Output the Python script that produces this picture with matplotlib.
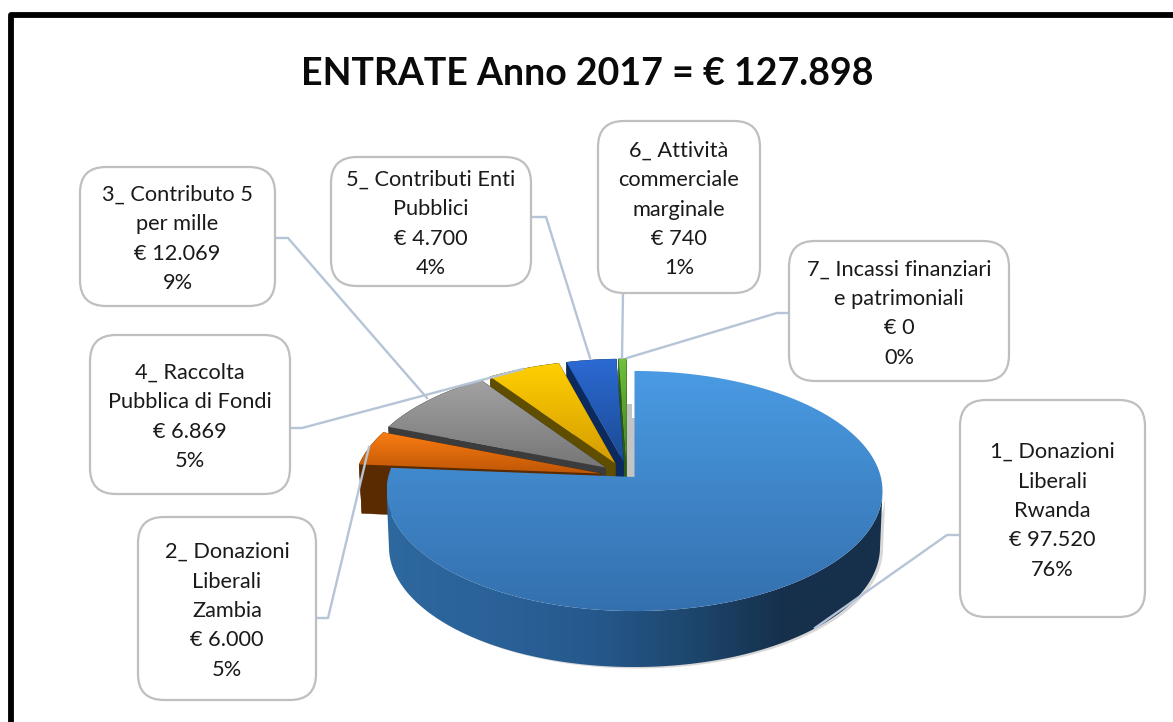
import numpy as np
import matplotlib
matplotlib.use("Agg")
import matplotlib.pyplot as plt
from matplotlib.patches import FancyBboxPatch, Polygon, Rectangle
from matplotlib.colors import LinearSegmentedColormap

title = "ENTRATE Anno 2017 = € 127.898"
names = ["1_ Donazioni\nLiberali\nRwanda", "2_ Donazioni\nLiberali\nZambia",
         "3_ Contributo 5\nper mille", "4_ Raccolta\nPubblica di Fondi",
         "5_ Contributi Enti\nPubblici", "6_ Attività\ncommerciale\nmarginale",
         "7_ Incassi finanziari\ne patrimoniali"]
values = [97520, 6000, 12069, 6869, 4700, 740, 0]
value_labels = ["€ 97.520", "€ 6.000", "€ 12.069", "€ 6.869", "€ 4.700", "€ 740", "€ 0"]
percent_labels = ["76%", "5%", "9%", "5%", "4%", "1%", "0%"]

top_colors = [("#4A9BE3", "#3470AE"), ("#FB7D12", "#BE5606"), ("#A2A2A2", "#767676"),
              ("#FFD000", "#D59C02"), ("#2C6AD4", "#1A4A92"), ("#6FC23C", "#3F7F1E"), ("#999999", "#777777")]
wall_colors = ["#1B3A5E", "#5A2A00", "#3C3C3C", "#5F4E00", "#0C2A5E", "#2C5A14", "#444444"]
explode = [0, 0.13, 0.13, 0.13, 0.13, 0.13, 0.13]
nudge = [0, -2, -4, -6, -6, -7.5, 0]

boxes = [(960, 400, 1145, 617), (138, 517, 316, 700), (80, 167, 275, 306), (90, 335, 290, 494),
         (331, 157, 531, 286), (598, 121, 760, 293), (789, 241, 1009, 381)]
leaders = [[(960, 535), (947, 535), (815, 628)], [(316, 618), (328, 618), (369, 447)],
           [(275, 238), (288, 238), (427, 398)], [(290, 428), (302, 428), (523, 369)],
           [(531, 217), (546, 217), (590, 358)], [(623, 293), (622, 358)],
           [(789, 313), (777, 313), (627, 358)]]

CX, CY, A, B, K = 634.5, 477.0, 118.4, 246.3, 0.1167

plt.rcParams["font.family"] = ["Lato", "DejaVu Sans"]
fig = plt.figure(figsize=(11.73, 7.22), dpi=100, facecolor="white")
ax = fig.add_axes([0, 0, 1, 1])
ax.set_xlim(0, 1173)
ax.set_ylim(722, 0)
ax.axis("off")


def wedge_outline(t0, t1, e, main, nudge_px):
    mid = np.radians((t0 + t1) / 2)
    du, dv = e * np.sin(mid), e * np.cos(mid)
    th = np.radians(np.linspace(t0, t1, max(int(t1 - t0) * 2, 6)))
    u = np.r_[du, du + np.sin(th)]
    v = np.r_[dv, dv + np.cos(th)]
    w = 1 + K * v
    d = np.full_like(u, 56.0) if main else 49.6 / w
    return CX + B * u / w + nudge_px, CY - A * v / w, d, v


def lower(x, y, d):
    return CX + (x - CX) * 0.99, y + d


def grad(poly_xy, c0, c1, horizontal=False, z=2, stops=None):
    poly = Polygon(poly_xy, closed=True, facecolor="none", edgecolor="none", zorder=z)
    ax.add_patch(poly)
    x0, y0 = poly_xy.min(axis=0)
    x1, y1 = poly_xy.max(axis=0)
    cols = stops if stops else [c0, c1]
    cmap = LinearSegmentedColormap.from_list("g", cols)
    arr = np.linspace(0, 1, 256)
    arr = arr[None, :] if horizontal else arr[:, None]
    im = ax.imshow(arr, cmap=cmap, extent=(x0, x1, y1, y0), aspect="auto", zorder=z,
                   interpolation="bilinear")
    im.set_clip_path(poly)


total = sum(values)
angles = np.r_[0, np.cumsum(values)] / total * 360
ax.add_patch(Rectangle((627, 404), 5, 73, facecolor="#C4C4C4", edgecolor="none", zorder=1.9))
ax.add_patch(Rectangle((632, 418), 2.5, 59, facecolor="#C4C4C4", edgecolor="none", zorder=1.9))
z = 2.0
for i in [6, 5, 4, 3, 2, 1, 0]:
    t0, t1 = angles[i], angles[i + 1]
    if values[i] == 0:
        continue
    x, y, d, v = wedge_outline(t0, t1, explode[i], i == 0, nudge[i])
    bx, by = lower(x, y, d)
    if i == 0:
        front = np.where((v[1:] <= -K))[0] + 1
        wall = np.c_[np.r_[x[front], bx[front][::-1]], np.r_[y[front], by[front][::-1]]]
        ax.add_patch(Polygon(wall + [3, 1.5], closed=True, facecolor="#D8D8D8", edgecolor="none", zorder=1.8))
        grad(wall, None, None, horizontal=True, z=z,
             stops=["#2D689F", "#2A6299", "#265A8E", "#1E4870", "#16304C", "#16304C"])
    else:
        for a, b in [(0, 1), (0, len(x) - 1)]:
            face = np.array([(x[a], y[a]), (x[b], y[b]), (bx[b], by[b]), (bx[a], by[a])])
            ax.add_patch(Polygon(face, closed=True, facecolor=wall_colors[i],
                                 edgecolor=wall_colors[i], lw=0.3, zorder=z))
        arc = np.c_[np.r_[x[1:], bx[1:][::-1]], np.r_[y[1:], by[1:][::-1]]]
        ax.add_patch(Polygon(arc, closed=True, facecolor=wall_colors[i],
                             edgecolor=wall_colors[i], lw=0.3, zorder=z))
    z += 0.01
    grad(np.c_[x, y], top_colors[i][0], top_colors[i][1], z=z)
    z += 0.01

for pts in leaders:
    pts = np.array(pts)
    ax.plot(pts[:, 0], pts[:, 1], color="#B5C4D6", lw=1.7, zorder=5, solid_joinstyle="miter")

for i, (x0, y0, x1, y1) in enumerate(boxes):
    ax.add_patch(FancyBboxPatch((x0, y0), x1 - x0, y1 - y0,
                                boxstyle="round,pad=0,rounding_size=26",
                                facecolor="white", edgecolor="#BFBFBF", lw=1.6, zorder=6))
    txt = f"{names[i]}\n{value_labels[i]}\n{percent_labels[i]}"
    ax.text((x0 + x1) / 2, (y0 + y1) / 2 + 2.5, txt, ha="center", va="center", fontsize=15.7,
            linespacing=1.59, color="#1A1A1A", zorder=7)

ax.text(587, 74, title, ha="center", va="center", fontsize=27, fontweight="bold",
        color="#0A0A0A", zorder=7)

ax.plot([1200, 10.5, 10.5], [14.5, 14.5, 760], color="black", lw=4.2, zorder=8,
        solid_joinstyle="round")

ax.set_xlim(0, 1173)
ax.set_ylim(722, 0)
fig.savefig("out.png", dpi=100, facecolor="white")
